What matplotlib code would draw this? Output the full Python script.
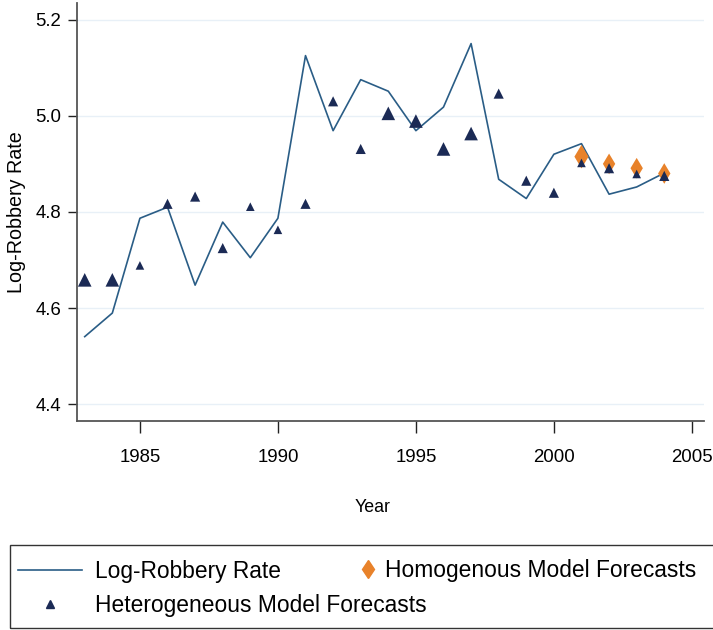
import matplotlib
matplotlib.use("Agg")
import matplotlib.pyplot as plt
from matplotlib.lines import Line2D
from matplotlib.patches import Rectangle

plt.rcParams['font.family'] = ['Liberation Sans', 'DejaVu Sans']

years = list(range(1983, 2005))
log_robbery = [4.541, 4.590, 4.787, 4.810, 4.648, 4.779, 4.705, 4.787, 5.125, 4.969, 5.075,
               5.051, 4.969, 5.018, 5.150, 4.868, 4.828, 4.920, 4.942, 4.837, 4.852, 4.881]
hetero = [4.659, 4.659, 4.689, 4.817, 4.832, 4.725, 4.811, 4.763, 4.817, 5.030, 4.931,
          5.005, 4.989, 4.931, 4.963, 5.046, 4.865, 4.840, 4.902, 4.891, 4.879, 4.875]
# marker size class per year: 0 small, 1 medium, 2 large
hetero_w = [2, 2, 0, 1, 1, 1, 0, 0, 1, 1, 1, 2, 2, 2, 2, 1, 1, 1, 0, 1, 0, 1]
homo_years = [2001, 2002, 2003, 2004]
homo = [4.915, 4.900, 4.891, 4.880]
homo_w = [2, 1, 1, 1]

navy = '#1b2a55'
orange = '#e8822a'
linec = '#2a5d86'

fig = plt.figure(figsize=(7.13, 6.30), dpi=100)
ax = fig.add_axes([0.108, 0.332, 0.879, 0.663])

tri_sizes = {0: 6.2, 1: 7.3, 2: 9.8}
dia_sizes = {1: 10.5, 2: 12}

ax.plot(years, log_robbery, color=linec, lw=1.2, zorder=2)
ax.scatter(homo_years, homo, marker='d', s=[dia_sizes[w] ** 2 for w in homo_w],
           color=orange, linewidths=0, zorder=3)
ax.scatter(years, hetero, marker='^', s=[tri_sizes[w] ** 2 for w in hetero_w],
           color=navy, linewidths=0, zorder=4)

ax.set_xlim(1982.72, 2005.43)
ax.set_ylim(4.366, 5.234)
ax.set_xticks([1985, 1990, 1995, 2000, 2005])
ax.set_yticks([4.4, 4.6, 4.8, 5.0, 5.2])
ax.set_yticklabels(['4.4', '4.6', '4.8', '5.0', '5.2'])
ax.grid(axis='y', color='#e8f0f7', lw=1.0, zorder=0)
ax.set_axisbelow(True)

for s in ['top', 'right']:
    ax.spines[s].set_visible(False)
for s in ['left', 'bottom']:
    ax.spines[s].set_color('#555555')
    ax.spines[s].set_linewidth(1.3)
ax.tick_params(axis='x', length=8.6, width=1.0, color='#222222', labelsize=13.4, pad=11.5)
ax.tick_params(axis='y', length=6.5, width=1.0, color='#222222', labelsize=13.4, pad=5)

ax.set_xlabel('Year', fontsize=12.8, va='top')
ax.xaxis.set_label_coords(0.471, -0.1875)
ax.set_ylabel('Log-Robbery Rate', fontsize=14.2)
ax.yaxis.set_label_coords(-0.081, 0.5)

# legend frame (open on the right like the source)
fig.patches.append(Rectangle((10 / 713, 2 / 630), 710 / 713, 83 / 630,
                             transform=fig.transFigure, fill=False,
                             edgecolor='#333333', lw=1.0))

leg_fs = 16.4
h1 = [Line2D([], [], color=linec, lw=1.2),
      Line2D([], [], marker='^', color=navy, ls='none', markersize=6)]
leg1 = fig.legend(h1, ['Log-Robbery Rate', 'Heterogeneous Model Forecasts'],
                  loc='center left', bbox_to_anchor=(18 / 713, 1 - 588.5 / 630),
                  fontsize=leg_fs, frameon=False, handlelength=2.8, handletextpad=0.57,
                  borderpad=0, borderaxespad=0, labelspacing=0.5)
h2 = [Line2D([], [], marker='d', color=orange, ls='none', markersize=9.5)]
leg2 = fig.legend(h2, ['Homogenous Model Forecasts'],
                  loc='center left', bbox_to_anchor=(361 / 713, 1 - 570 / 630),
                  fontsize=leg_fs, frameon=False, handlelength=0.6, handletextpad=0.44,
                  borderpad=0, borderaxespad=0)

fig.savefig('out.png', dpi=100)
